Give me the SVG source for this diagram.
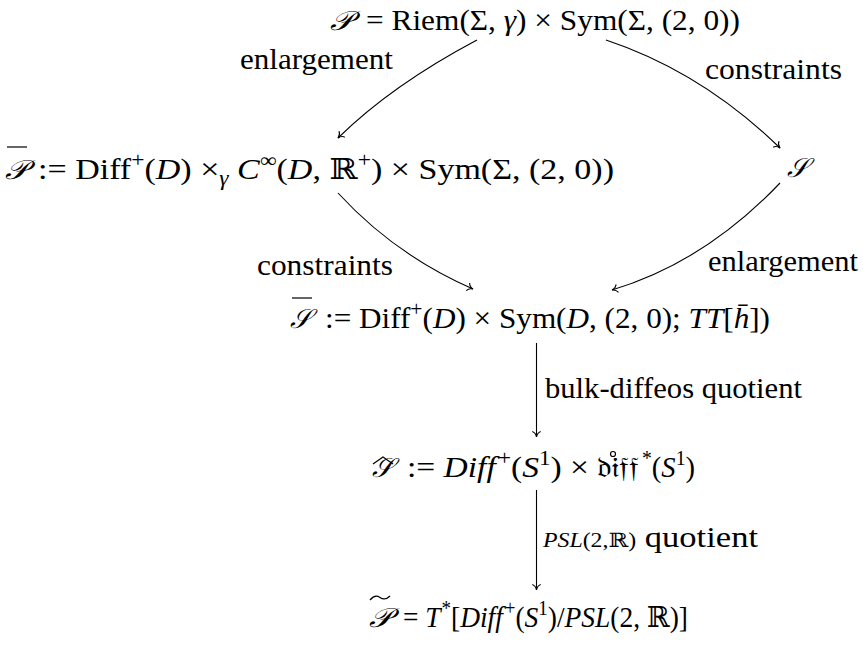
<svg xmlns="http://www.w3.org/2000/svg" width="863" height="645" viewBox="0 0 863 645">
<style>
text{font-family:"Liberation Serif","DejaVu Serif",serif;font-size:29px;fill:#000}
.i{font-style:italic}
.cal{font-style:italic;font-size:27px}
.s{font-size:20px}
.c path{fill:none;stroke:#000;stroke-width:1.1}
.acc{fill:none;stroke:#000;stroke-width:1.2}
</style>
<defs>
<marker id="ah" viewBox="-7 -6 8 12" refX="0" refY="0" markerWidth="8" markerHeight="12" markerUnits="userSpaceOnUse" orient="auto">
<path d="M-5.5,-4.2 C-4.5,-1.6 -1.6,-0.3 0,0 C-1.6,0.3 -4.5,1.6 -5.5,4.2" fill="none" stroke="#000" stroke-width="1.1"/>
</marker>
</defs>
<g id="nP">
<text x="330" y="30" class="cal" textLength="22" lengthAdjust="spacingAndGlyphs">𝒫</text>
<text x="366" y="30" textLength="374" lengthAdjust="spacingAndGlyphs">= Riem(Σ, <tspan class="i">γ</tspan>) × Sym(Σ, (2, 0))</text>
</g>
<g id="nPbar">
<text x="5" y="179" class="cal" textLength="22" lengthAdjust="spacingAndGlyphs">𝒫</text>
<line class="acc" x1="7" y1="147" x2="27" y2="147"/>
<text x="38" y="179" textLength="576" lengthAdjust="spacingAndGlyphs">:= Diff<tspan class="s" dy="-12">+</tspan><tspan dy="12">(</tspan><tspan class="i">D</tspan>) ×<tspan class="s i" dy="6">γ</tspan><tspan dy="-6"> </tspan><tspan class="i">C</tspan><tspan class="s" dy="-12">∞</tspan><tspan dy="12">(</tspan><tspan class="i">D</tspan>, ℝ<tspan class="s" dy="-12">+</tspan><tspan dy="12">) × Sym(Σ, (2, 0))</tspan></text>
</g>
<g id="nS">
<text x="787" y="177" class="cal" textLength="21" lengthAdjust="spacingAndGlyphs">𝒮</text>
</g>
<g id="nSbar">
<text x="290" y="328" class="cal" textLength="21" lengthAdjust="spacingAndGlyphs">𝒮</text>
<line class="acc" x1="292" y1="298" x2="312" y2="298"/>
<text x="325" y="328" textLength="445" lengthAdjust="spacingAndGlyphs">:= Diff<tspan class="s" dy="-12">+</tspan><tspan dy="12">(</tspan><tspan class="i">D</tspan>) × Sym(<tspan class="i">D</tspan>, (2, 0); <tspan class="i">TT</tspan>[<tspan class="i">h̄</tspan>])</text>
</g>
<g id="nShat">
<text x="372" y="477" class="cal" textLength="21" lengthAdjust="spacingAndGlyphs">𝒮</text>
<path class="acc" d="M373,464 L383,457 L393,464"/>
<text x="407" y="477" textLength="182" lengthAdjust="spacingAndGlyphs">:= <tspan class="i">Diff</tspan><tspan class="s" dx="2" dy="-12">+</tspan><tspan dy="12">(</tspan><tspan class="i">S</tspan><tspan class="s" dy="-12">1</tspan><tspan dy="12">) ×</tspan></text>
<text x="597" y="477" font-size="26" textLength="42" lengthAdjust="spacingAndGlyphs">𝔡𝔦𝔣𝔣</text>
<circle class="acc" cx="613" cy="454" r="2.5"/>
<text x="642" y="477" textLength="53" lengthAdjust="spacingAndGlyphs"><tspan class="s" dy="-12">*</tspan><tspan dy="12">(</tspan><tspan class="i">S</tspan><tspan class="s" dy="-12">1</tspan><tspan dy="12">)</tspan></text>
</g>
<g id="nPtilde">
<text x="369" y="627" class="cal" textLength="22" lengthAdjust="spacingAndGlyphs">𝒫</text>
<path class="acc" d="M370,600 Q375,594 380,597.5 T390,596"/>
<text x="403" y="627" textLength="285" lengthAdjust="spacingAndGlyphs">= <tspan class="i">T</tspan><tspan class="s" dx="1" dy="-12">*</tspan><tspan dy="12">[</tspan><tspan class="i">Diff</tspan><tspan class="s" dx="2" dy="-12">+</tspan><tspan dy="12">(</tspan><tspan class="i">S</tspan><tspan class="s" dy="-12">1</tspan><tspan dy="12">)/</tspan><tspan class="i">PSL</tspan>(2, ℝ)]</text>
</g>
<g id="connectors" class="c">
<path d="M477,40 Q392,85 338,138" marker-end="url(#ah)"/>
<path d="M606,40 Q702,72 780,148" marker-end="url(#ah)"/>
<path d="M338,193 Q395,255 473,289" marker-end="url(#ah)"/>
<path d="M780,183 Q705,262 612,290" marker-end="url(#ah)"/>
<path d="M536.5,343 L536.5,437" marker-end="url(#ah)"/>
<path d="M536.5,490 L536.5,590" marker-end="url(#ah)"/>
</g>
<g id="labels">
<text x="240" y="69" textLength="153" lengthAdjust="spacingAndGlyphs">enlargement</text>
<text x="705" y="79" textLength="137" lengthAdjust="spacingAndGlyphs">constraints</text>
<text x="257" y="275" textLength="136" lengthAdjust="spacingAndGlyphs">constraints</text>
<text x="708" y="271" textLength="150" lengthAdjust="spacingAndGlyphs">enlargement</text>
<text x="545" y="398" textLength="257" lengthAdjust="spacingAndGlyphs">bulk-diffeos quotient</text>
<text x="543" y="547" textLength="215" lengthAdjust="spacingAndGlyphs"><tspan class="i s">PSL</tspan><tspan class="s">(2,ℝ)</tspan> quotient</text>
</g>
</svg>
